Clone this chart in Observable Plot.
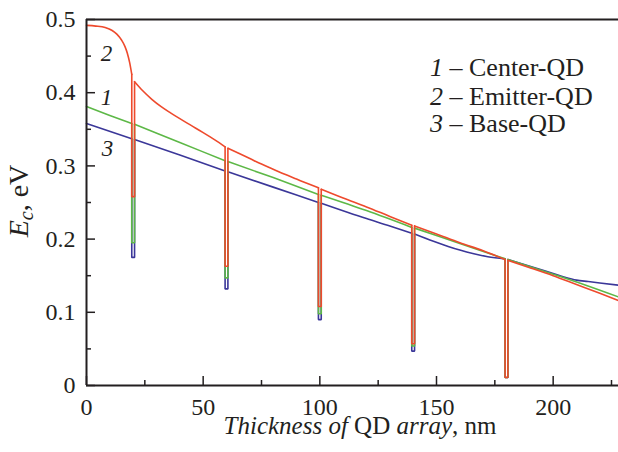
<!DOCTYPE html>
<html>
<head>
<meta charset="utf-8">
<script src="https://cdn.jsdelivr.net/npm/d3@7"></script>
<script src="https://cdn.jsdelivr.net/npm/@observablehq/plot@0.6"></script>
<style>
  html, body { margin: 0; padding: 0; background: #fff; }
  #chart svg { display: block; }
  #chart svg text { font-family: "Liberation Serif", "Times New Roman", Times, "DejaVu Serif", serif; }
</style>
</head>
<body>
<div id="chart"></div>
<script>
// ---- data ----
const wellX = [20, 60, 100, 140, 180];
const wellHalf = 0.6;

// background curve segments between wells, [thickness nm, Ec eV]
const redCurve = [
  [[0,0.492],[4,0.491],[8,0.489],[11,0.485],[13,0.480],[15,0.472],[16.5,0.463],[17.5,0.454],[18.5,0.441],[19.4,0.425]],
  [[20.6,0.415],[24,0.403],[28,0.391],[32,0.381],[36,0.3725],[40,0.3645],[45,0.355],[50,0.3455],[55,0.3355],[59.4,0.326]],
  [[60.6,0.324],[65,0.3175],[70,0.310],[75,0.3025],[80,0.2955],[85,0.2885],[90,0.282],[95,0.2755],[99.4,0.270]],
  [[100.6,0.268],[110,0.256],[120,0.244],[130,0.231],[139.4,0.219]],
  [[140.6,0.218],[150,0.207],[160,0.195],[170,0.184],[179.4,0.172]],
  [[180.6,0.171],[190,0.161],[200,0.150],[210,0.138],[220,0.126],[228,0.116]]
];
const greenCurve = [
  [[0,0.381],[10,0.369],[19.4,0.358]],
  [[20.6,0.357],[40,0.332],[59.4,0.307]],
  [[60.6,0.306],[80,0.284],[99.4,0.261]],
  [[100.6,0.260],[120,0.239],[139.4,0.216]],
  [[140.6,0.215],[160,0.194],[179.4,0.173]],
  [[180.6,0.172],[200,0.152],[214,0.137],[228,0.121]]
];
const blueCurve = [
  [[0,0.358],[19.4,0.337]],
  [[20.6,0.336],[40,0.315],[59.4,0.293]],
  [[60.6,0.292],[80,0.271],[99.4,0.250]],
  [[100.6,0.249],[120,0.228],[130,0.218],[139.4,0.208]],
  [[140.6,0.207],[148.7,0.197],[155,0.190],[160,0.185],[166,0.180],[172,0.176],[179.4,0.173]],
  [[180.6,0.172],[190,0.163],[200,0.153],[205,0.148],[210,0.144],[215,0.142],[220,0.140],[228,0.137]]
];
// well bottoms at each well
const redBottom   = [0.258, 0.163, 0.108, 0.057, 0.011];
const greenBottom = [0.195, 0.147, 0.098, 0.054, 0.011];
const blueBottom  = [0.175, 0.132, 0.090, 0.047, 0.011];

const xMajor = [0, 50, 100, 150, 200];
const xMinor = [25, 75, 125, 175, 225];
const yMajor = [0, 0.1, 0.2, 0.3, 0.4, 0.5];
const yMinor = [0.05, 0.15, 0.25, 0.35, 0.45];

const curveLabels = [
  {x: 8.6, y: 0.453, t: "2"},
  {x: 8.6, y: 0.393, t: "1"},
  {x: 9.0, y: 0.323, t: "3"}
];
const legendNum  = ["1", "2", "3"];
const legendName = ["Center-QD", "Emitter-QD", "Base-QD"];

// ---- build tables ----
function segs(curve) {
  const out = [];
  curve.forEach((seg, k) => seg.forEach(p => out.push({x: p[0], y: p[1], k})));
  return out;
}
function wells(curve, bottoms) {
  const out = [];
  wellX.forEach((w, i) => {
    const left = curve[i][curve[i].length - 1];
    const right = curve[i + 1][0];
    out.push({x: left[0], y: left[1], k: i});
    out.push({x: left[0], y: bottoms[i], k: i});
    out.push({x: right[0], y: bottoms[i], k: i});
    out.push({x: right[0], y: right[1], k: i});
  });
  return out;
}

const INK = "#231f20";
const C_RED = "#ee4a2d", C_GREEN = "#5db847", C_BLUE = "#3b3799";
const SW = 1.6;
const W = 618, H = 452, ML = 86, MR = 0, MT = 19, MB = 67;
const innerH = H - MT - MB, innerW = W - ML - MR;

function seriesMarks(curve, bottoms, color) {
  return [
    Plot.line(segs(curve), {x: "x", y: "y", z: "k", curve: "monotone-x", stroke: color, strokeWidth: SW}),
    Plot.line(wells(curve, bottoms), {x: "x", y: "y", z: "k", stroke: color, strokeWidth: SW, strokeLinejoin: "miter"})
  ];
}

const svg = Plot.plot({
  width: W, height: H,
  marginLeft: ML, marginRight: MR, marginTop: MT, marginBottom: MB,
  x: {domain: [0, 228]},
  y: {domain: [0, 0.5]},
  style: {fontSize: "24px", color: INK, background: "#fff"},
  marks: [
    ...seriesMarks(blueCurve, blueBottom, C_BLUE),
    ...seriesMarks(greenCurve, greenBottom, C_GREEN),
    ...seriesMarks(redCurve, redBottom, C_RED),
    Plot.tickX(xMajor, {x: d => d, insetTop: innerH - 9, stroke: INK, strokeWidth: 1.5}),
    Plot.tickX(xMinor, {x: d => d, insetTop: innerH - 5, stroke: INK, strokeWidth: 1.5}),
    Plot.tickY(yMajor, {y: d => d, insetRight: innerW - 9, stroke: INK, strokeWidth: 1.5}),
    Plot.tickY(yMinor, {y: d => d, insetRight: innerW - 5, stroke: INK, strokeWidth: 1.5}),
    Plot.ruleY([0], {stroke: INK, strokeWidth: 2}),
    Plot.ruleY([0.5], {stroke: INK, strokeWidth: 2}),
    Plot.ruleX([0], {stroke: INK, strokeWidth: 2}),
    Plot.axisX(xMajor, {tickSize: 0, tickPadding: 12, fontSize: 24, label: null, tickFormat: d => String(d)}),
    Plot.axisY(yMajor, {tickSize: 0, tickPadding: 11, fontSize: 24, label: null, tickFormat: d => String(d)}),
    Plot.text(curveLabels, {x: "x", y: "y", text: "t", fontStyle: "italic", fontSize: 23, fill: INK})
  ]
});
document.getElementById("chart").appendChild(svg);

const s = d3.select(svg);

// y label
const yl = s.append("text")
  .attr("transform", "translate(28,201) rotate(-90)")
  .attr("text-anchor", "middle")
  .attr("font-size", 28).attr("fill", INK);
yl.append("tspan").attr("font-style", "italic").text("E");
yl.append("tspan").attr("font-style", "italic").attr("font-size", 20).attr("dy", 5).text("c");
yl.append("tspan").attr("dy", -5).text(", eV");

// x label
const xl = s.append("text")
  .attr("x", 360).attr("y", 434)
  .attr("text-anchor", "middle")
  .attr("font-size", 25).attr("fill", INK);
xl.append("tspan").attr("font-style", "italic").text("Thickness of");
xl.append("tspan").text(" QD ");
xl.append("tspan").attr("font-style", "italic").text("array");
xl.append("tspan").text(", nm");

// legend
const baselines = [76, 105, 132];
legendNum.forEach((n, i) => {
  const t = s.append("text")
    .attr("x", 430).attr("y", baselines[i])
    .attr("text-anchor", "start")
    .attr("font-size", 26).attr("fill", INK);
  t.append("tspan").attr("font-style", "italic").text(n);
  t.append("tspan").text(" \u2013 " + legendName[i]);
});
</script>
</body>
</html>
